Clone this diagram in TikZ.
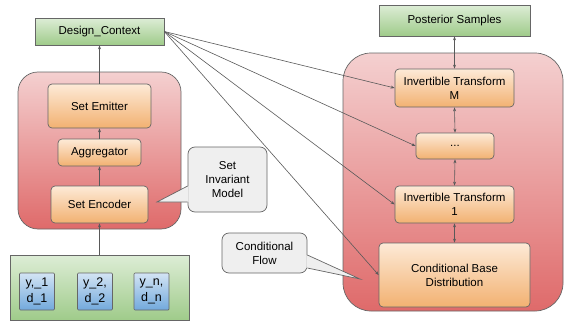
\documentclass[tikz,border=0pt]{standalone}
\usepackage{fontspec}
\setmainfont{Liberation Sans}
\usetikzlibrary{arrows.meta,positioning}

\definecolor{linegray}{HTML}{666666}
\definecolor{arrowgray}{HTML}{595959}
\definecolor{greentop}{HTML}{DDEDD6}
\definecolor{greenbot}{HTML}{9FCB8A}
\definecolor{redtop}{HTML}{F4D0D0}
\definecolor{redbot}{HTML}{DF6A6A}
\definecolor{orangetop}{HTML}{FDEAD7}
\definecolor{orangebot}{HTML}{F2B171}
\definecolor{bluetop}{HTML}{D3E4F4}
\definecolor{bluebot}{HTML}{72A9DC}
\definecolor{calloutfill}{HTML}{EFEFEF}

\tikzset{
  basefont/.style={font=\fontsize{11.5}{13.8}\selectfont},
  outline/.style={draw=linegray, line width=0.7pt},
  greenbox/.style={outline, basefont, top color=greentop, bottom color=greenbot,
    inner sep=0pt, align=center},
  container/.style={outline, top color=redtop, bottom color=redbot, inner sep=0pt},
  stagebox/.style={outline, basefont, rounded corners=4pt, top color=orangetop,
    bottom color=orangebot, inner sep=0pt, align=center},
  itembox/.style={outline, rounded corners=1pt, top color=bluetop, bottom color=bluebot,
    inner sep=0pt, align=center, font=\fontsize{12.5}{15.5}\selectfont,
    minimum width=35pt, minimum height=37pt},
  callout/.style={outline, basefont, fill=calloutfill, rounded corners=7pt,
    inner sep=0pt, align=center},
  flow/.style={draw=arrowgray, line width=0.6pt, -{Stealth[length=4pt,width=3pt]}},
  flowboth/.style={draw=arrowgray, line width=0.6pt,
    {Stealth[length=4pt,width=3pt]}-{Stealth[length=4pt,width=3pt]}}
}

\begin{document}
\begin{tikzpicture}[x=1pt,y=-1pt]
\useasboundingbox (0,0) rectangle (565,324);

% ---------- left column: set invariant encoder ----------
\node[container, rounded corners=20pt, minimum width=163pt, minimum height=157pt]
  (enc) at (99.5,150.5) {};
\node[greenbox, minimum width=129pt, minimum height=27pt] (dc) at (99.5,31.5) {Design\_Context};
\node[stagebox, minimum width=103pt, minimum height=44pt] (emit) at (99.5,106) {Set Emitter};
\node[stagebox, minimum width=83pt, minimum height=27pt] (agg) at (99.5,152.5) {Aggregator};
\node[stagebox, minimum width=97pt, minimum height=37pt] (senc) at (99.5,204.5) {Set Encoder};

% observed data
\node[greenbox, minimum width=179pt, minimum height=65pt] (data) at (99.5,287.5) {};
\node[itembox] (d1) at (37,291.5) {y,\_1\\d\_1};
\node[itembox] (d2) at (95,291.5) {y\_2,\\d\_2};
\node[itembox] (dn) at (151.5,291.5) {y\_n,\\d\_n};

\draw[flow] (data.north) -- (senc.south);
\draw[flow] (senc.north) -- (agg.south);
\draw[flow] (agg.north) -- (emit.south);
\draw[flow] (emit.north) -- (dc.south);

% ---------- right column: conditional flow ----------
\node[container, rounded corners=28pt, minimum width=220pt, minimum height=258pt]
  (flowbox) at (453,182) {};
\node[greenbox, minimum width=151pt, minimum height=31pt] (post) at (454.5,20.5) {Posterior Samples};
\node[stagebox, minimum width=119pt, minimum height=38pt] (itm) at (454.5,88) {Invertible Transform\\M};
\node[stagebox, minimum width=78pt, minimum height=26pt] (dots) at (455,146) {...};
\node[stagebox, minimum width=119pt, minimum height=37pt] (it1) at (454.5,204.5) {Invertible Transform\\1};
\node[stagebox, minimum width=151pt, minimum height=64pt] (base) at (454.5,275) {Conditional Base\\Distribution};

\draw[flowboth] (post.south) -- (itm.north);
\draw[flowboth] (itm.south) -- (dots.north);
\draw[flowboth] (dots.south) -- (it1.north);
\draw[flowboth] (it1.south) -- (base.north);

% conditioning on the design context
\draw[flow] (dc.east) -- (itm.west);
\draw[flow] (dc.east) -- (dots.west);
\draw[flow] (dc.east) -- (it1.west);
\draw[flow] (dc.east) -- (base.west);

% ---------- callouts ----------
\node[callout, minimum width=79pt, minimum height=65pt] (sim) at (227.5,179.5)
  {Set\\Invariant\\Model};
\coordinate (simtip) at (157,202);
\fill[calloutfill] ([xshift=1pt,yshift=-6.5pt]sim.west) -- (simtip)
  -- ([xshift=1pt,yshift=-22.5pt]sim.west) -- cycle;
\draw[draw=linegray, line width=0.7pt] ([yshift=-6.5pt]sim.west) -- (simtip)
  -- ([yshift=-22.5pt]sim.west);

\node[callout, minimum width=85pt, minimum height=40pt] (cf) at (264.5,253)
  {Conditional\\Flow};
\coordinate (cftip) at (360,279);
\fill[calloutfill] ([xshift=-1pt,yshift=-2pt]cf.east) -- (cftip)
  -- ([xshift=-1pt,yshift=-15pt]cf.east) -- cycle;
\draw[draw=linegray, line width=0.7pt] ([yshift=-2pt]cf.east) -- (cftip)
  -- ([yshift=-15pt]cf.east);
\end{tikzpicture}
\end{document}
